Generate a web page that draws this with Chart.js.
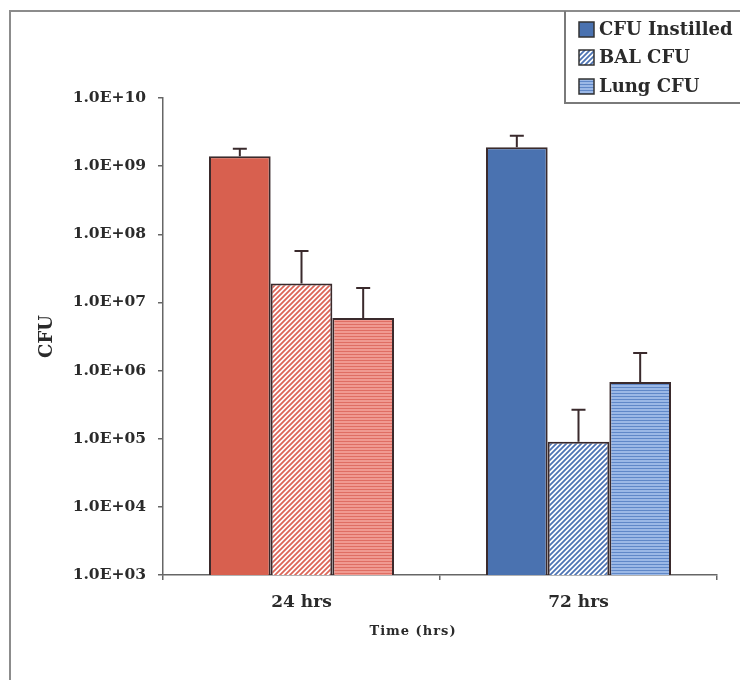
<!DOCTYPE html>
<html>
<head>
<meta charset="utf-8">
<script src="https://cdn.jsdelivr.net/npm/chart.js@4.4.1/dist/chart.umd.min.js"></script>
<style>
  html, body { margin: 0; padding: 0; background: #ffffff; }
  #wrap { position: relative; width: 740px; height: 680px; }
</style>
</head>
<body>
<div id="wrap"><canvas id="c"></canvas></div>
<script>
// ---- data ----
const categories = ['24 hrs', '72 hrs'];
const seriesNames = ['CFU Instilled', 'BAL CFU', 'Lung CFU'];
const instilled = [1.4e9, 1.9e9];
const instilledSD = [0.4e9, 0.9e9];
const bal = [1.9e7, 9.0e4];
const balSD = [3.8e7, 1.75e5];
const lung = [5.9e6, 6.8e5];
const lungSD = [1.04e7, 1.13e6];
const tickValues = [1e3, 1e4, 1e5, 1e6, 1e7, 1e8, 1e9, 1e10];
const tickLabels = ['1.0E+03', '1.0E+04', '1.0E+05', '1.0E+06', '1.0E+07', '1.0E+08', '1.0E+09', '1.0E+10'];
const yTitle = 'CFU';
const xTitle = 'Time (hrs)';

// ---- patterns ----
function diagPattern(fg) {
  const s = 5;
  const c = document.createElement('canvas'); c.width = s; c.height = s;
  const x = c.getContext('2d');
  x.fillStyle = '#ffffff'; x.fillRect(0, 0, s, s);
  x.strokeStyle = fg; x.lineWidth = 1.8;
  x.beginPath();
  x.moveTo(-1, s + 1); x.lineTo(s + 1, -1);
  x.moveTo(-1, 1); x.lineTo(1, -1);
  x.moveTo(s - 1, s + 1); x.lineTo(s + 1, s - 1);
  x.stroke();
  return x.createPattern(c, 'repeat');
}
function horizPattern(bg, fg) {
  const c = document.createElement('canvas'); c.width = 4; c.height = 3;
  const x = c.getContext('2d');
  x.fillStyle = bg; x.fillRect(0, 0, 4, 3);
  x.fillStyle = fg; x.fillRect(0, 0, 4, 1);
  return x.createPattern(c, 'repeat');
}
const redSolid = '#d8604f';
const blueSolid = '#4a72b0';
const redDiag = diagPattern('#dc6658');
const blueDiag = diagPattern('#4d74b4');
const redHoriz = horizPattern('#f09a91', '#df6e63');
const blueHoriz = horizPattern('#9bb8e6', '#6088c8');
const edge = '#3a2a2c';

const sdList = [instilledSD, balSD, lungSD];

const serif = "'DejaVu Serif', 'Liberation Serif', serif";

const bgPlugin = {
  id: 'frame',
  beforeDraw(chart) {
    const ctx = chart.ctx;
    ctx.save();
    ctx.fillStyle = '#ffffff';
    ctx.fillRect(0, 0, chart.width, chart.height);
    ctx.strokeStyle = '#8c8c8c';
    ctx.lineWidth = 2;
    ctx.beginPath();
    ctx.moveTo(10, 690); ctx.lineTo(10, 11); ctx.lineTo(750, 11);
    ctx.stroke();
    ctx.restore();
  }
};

const errPlugin = {
  id: 'errbars',
  afterDatasetsDraw(chart) {
    const ctx = chart.ctx;
    const ys = chart.scales.y;
    ctx.save();
    ctx.strokeStyle = edge;
    ctx.lineWidth = 2;
    chart.data.datasets.forEach((ds, i) => {
      const meta = chart.getDatasetMeta(i);
      meta.data.forEach((el, j) => {
        const top = ys.getPixelForValue(ds.data[j] + sdList[i][j]);
        ctx.beginPath();
        ctx.moveTo(el.x, el.y);
        ctx.lineTo(el.x, top);
        ctx.moveTo(el.x - 7, top);
        ctx.lineTo(el.x + 7, top);
        ctx.stroke();
      });
    });
    ctx.restore();
  }
};

const legendPlugin = {
  id: 'customLegend',
  afterDraw(chart) {
    const ctx = chart.ctx;
    ctx.save();
    ctx.strokeStyle = '#7a7a7a';
    ctx.lineWidth = 2;
    ctx.beginPath();
    ctx.moveTo(565, 11); ctx.lineTo(565, 103); ctx.lineTo(750, 103);
    ctx.stroke();
    const fills = [blueSolid, blueDiag, blueHoriz];
    const rowsY = [29, 57, 86];
    ctx.font = "bold 18px " + serif;
    ctx.textBaseline = 'middle';
    ctx.textAlign = 'left';
    seriesNames.forEach((name, i) => {
      const cy = rowsY[i];
      ctx.fillStyle = fills[i];
      ctx.fillRect(579, cy - 7, 15, 15);
      ctx.strokeStyle = '#333';
      ctx.lineWidth = 1.5;
      ctx.strokeRect(579, cy - 7, 15, 15);
      ctx.fillStyle = '#2a2a2a';
      ctx.fillText(name, 599, cy + 1);
    });
    ctx.font = "bold 13px " + serif;
    ctx.textAlign = 'center';
    ctx.letterSpacing = '1px';
    ctx.fillStyle = '#2a2a2a';
    ctx.fillText(xTitle, 413, 632);
    ctx.restore();
  }
};

new Chart(document.getElementById('c'), {
  type: 'bar',
  data: {
    labels: categories,
    datasets: [
      { label: seriesNames[0], data: instilled, backgroundColor: [redSolid, blueSolid], borderColor: edge, borderWidth: 2 },
      { label: seriesNames[1], data: bal, backgroundColor: [redDiag, blueDiag], borderColor: edge, borderWidth: 2 },
      { label: seriesNames[2], data: lung, backgroundColor: [redHoriz, blueHoriz], borderColor: edge, borderWidth: 2 }
    ]
  },
  options: {
    responsive: true,
    maintainAspectRatio: false,
    animation: false,
    layout: { padding: { left: 10, top: 98, right: 23, bottom: 0 } },
    plugins: { legend: { display: false }, tooltip: { enabled: false } },
    datasets: { bar: { categoryPercentage: 0.668, barPercentage: 1.0, borderSkipped: 'start' } },
    scales: {
      x: {
        afterFit(s) { s.height = 105; },
        grid: { offset: true, drawOnChartArea: false, drawTicks: true, tickLength: 5, color: '#666', lineWidth: 1.5 },
        border: { display: true, color: '#666', width: 1.5 },
        ticks: { color: '#2a2a2a', padding: 12, font: { family: serif, size: 17, weight: 'bold' } }
      },
      y: {
        type: 'logarithmic',
        min: 1e3,
        max: 1e10,
        afterFit(s) { s.width = 153; },
        afterBuildTicks(s) { s.ticks = tickValues.map(v => ({ value: v })); },
        grid: { drawOnChartArea: false, drawTicks: true, tickLength: 5, color: '#666', lineWidth: 1.5 },
        border: { display: true, color: '#666', width: 1.5 },
        ticks: {
          color: '#2a2a2a',
          padding: 12,
          autoSkip: false,
          font: { family: serif, size: 15.5, weight: 'bold' },
          callback(value) { const k = tickValues.indexOf(value); return k >= 0 ? tickLabels[k] : ''; }
        },
        title: {
          display: true,
          text: yTitle,
          color: '#2a2a2a',
          font: { family: serif, size: 18, weight: 'bold' },
          padding: { top: 27, bottom: 0 }
        }
      }
    }
  },
  plugins: [bgPlugin, errPlugin, legendPlugin]
});
</script>
</body>
</html>
